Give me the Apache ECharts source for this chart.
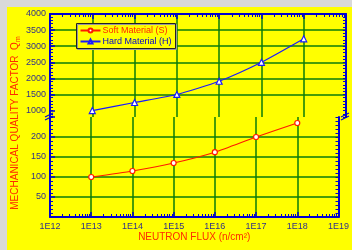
<!DOCTYPE html>
<html>
<head>
<meta charset="utf-8">
<script src="https://cdn.jsdelivr.net/npm/echarts@6/dist/echarts.min.js"></script>
<style>
  html, body { margin: 0; padding: 0; background: #d9d9d9; overflow: hidden; }
  #paper { position: absolute; left: 7px; top: 7px; width: 345px; height: 243px; background: #ffff00; }
  #chart { position: absolute; left: 0; top: 0; width: 352px; height: 250px; }
</style>
</head>
<body>
<div id="paper"></div>
<div id="chart"></div>
<script>
// neutron flux as power of ten (1E13 ... 1E18)
var fluxExp = [13, 14, 15, 16, 17, 18];
var softQm = [100, 115, 135, 162, 200, 235];
var hardQm = [1000, 1250, 1500, 1910, 2500, 3230];

var hardTicks = [1000, 1500, 2000, 2500, 3000, 3500, 4000];
var softTicks = [50, 100, 150, 200];

var softName = 'Soft Material (S)';
var hardName = 'Hard Material (H)';

var BLUE = '#0000d0';
var GREEN = '#0a7c0a';
var RED = '#ff2a00';
var LABEL = '#30308a';
var FONT = '"Liberation Sans", Arial, sans-serif';

// log minor ticks 2..9 in every decade
var minorX = [];
for (var n = 12; n < 19; n++) {
  for (var k = 2; k <= 9; k++) minorX.push(n + Math.log10(k));
}

var pts = function (ys) {
  return fluxExp.map(function (x, i) { return [x, ys[i]]; });
};

var chart = echarts.init(document.getElementById('chart'));

var axLine = { show: true, lineStyle: { color: BLUE, width: 2 } };
var split = { show: true, showMinLine: false, showMaxLine: false, lineStyle: { color: GREEN, width: 1.5 } };

function minorAxis(grid, pos, range, extra) {
  var a = {
    gridIndex: grid, type: 'value', position: pos, min: range[0], max: range[1],
    axisLine: { show: false },
    axisTick: { show: true, inside: true, length: 3, lineStyle: { color: BLUE, width: 1 } },
    axisLabel: { show: false },
    splitLine: { show: false }
  };
  return Object.assign(a, extra);
}

// break mark "//" over an axis line
function breakMark(x, y) {
  return {
    type: 'group', x: x, y: y, z: 100,
    children: [
      { type: 'polygon', shape: { points: [[-5, 0], [3, -4], [3, -1], [-5, 3]] }, style: { fill: '#ffff00' } },
      { type: 'line', shape: { x1: -5, y1: 0, x2: 3, y2: -4 }, style: { stroke: BLUE, lineWidth: 1.2 } },
      { type: 'line', shape: { x1: -5, y1: 3, x2: 3, y2: -1 }, style: { stroke: BLUE, lineWidth: 1.2 } }
    ]
  };
}

var plain = function (v) { return String(v); };

chart.setOption({
  animation: false,
  backgroundColor: 'transparent',
  textStyle: { fontFamily: FONT },
  grid: [
    { left: 50, top: 14, width: 296, height: 103 },
    { left: 50, top: 117, width: 296, height: 100 }
  ],
  legend: {
    left: 76.5, top: 23.5, orient: 'vertical',
    padding: [2, 4, 2, 3], itemGap: 1,
    itemWidth: 20, itemHeight: 5,
    backgroundColor: '#ffff00', borderColor: '#222', borderWidth: 1,
    shadowColor: '#999', shadowOffsetX: 1, shadowOffsetY: 1,
    textStyle: { fontSize: 9, lineHeight: 10, fontFamily: FONT, padding: [0, 0, 0, -3] },
    data: [
      { name: softName, textStyle: { color: RED } },
      { name: hardName, textStyle: { color: BLUE } }
    ]
  },
  xAxis: [
    {
      gridIndex: 0, type: 'value', position: 'top', min: 12, max: 19, interval: 1,
      axisLine: axLine,
      axisTick: { show: true, inside: true, length: 5, lineStyle: { color: BLUE, width: 1.5 } },
      axisLabel: { show: false },
      splitLine: split
    },
    minorAxis(0, 'top', [12, 19], {
      axisTick: { show: true, inside: true, length: 3, customValues: minorX, lineStyle: { color: BLUE } }
    }),
    {
      gridIndex: 1, type: 'value', position: 'bottom', min: 12, max: 19, interval: 1,
      axisLine: axLine,
      axisTick: { show: true, inside: true, length: 5, lineStyle: { color: BLUE, width: 1.5 } },
      axisLabel: { color: LABEL, fontSize: 9, margin: 5, formatter: function (v) { return '1E' + v; } },
      splitLine: split,
      name: 'NEUTRON FLUX (n/cm²)', nameLocation: 'middle', nameGap: 15,
      nameTextStyle: { color: RED, fontSize: 10, fontFamily: FONT }
    },
    minorAxis(1, 'bottom', [12, 19], {
      axisTick: { show: true, inside: true, length: 3, customValues: minorX, lineStyle: { color: BLUE } }
    })
  ],
  yAxis: [
    {
      gridIndex: 0, type: 'value', position: 'left', min: 800, max: 4000,
      axisLine: axLine,
      axisTick: { show: true, inside: true, length: 5, customValues: hardTicks, lineStyle: { color: BLUE, width: 1.5 } },
      axisLabel: { customValues: hardTicks, color: LABEL, fontSize: 9, margin: 4, formatter: plain },
      splitLine: split
    },
    minorAxis(0, 'left', [800, 4000], { interval: 100 }),
    {
      gridIndex: 0, type: 'value', position: 'right', min: 800, max: 4000, interval: 100,
      axisLine: axLine,
      axisTick: { show: true, inside: true, length: 3, lineStyle: { color: BLUE } },
      axisLabel: { show: false },
      splitLine: { show: false }
    },
    {
      gridIndex: 1, type: 'value', position: 'left', min: 0, max: 250, interval: 50,
      axisLine: axLine,
      axisTick: { show: true, inside: true, length: 5, lineStyle: { color: BLUE, width: 1.5 } },
      minorTick: { show: true, splitNumber: 5, length: 3, lineStyle: { color: BLUE } },
      axisLabel: {
        color: LABEL, fontSize: 9, margin: 4,
        formatter: function (v) { return softTicks.indexOf(v) >= 0 ? String(v) : ''; }
      },
      splitLine: split
    },
    {
      gridIndex: 1, type: 'value', position: 'right', min: 0, max: 250, interval: 10,
      axisLine: axLine,
      axisTick: { show: true, inside: true, length: 3, lineStyle: { color: BLUE } },
      axisLabel: { show: false },
      splitLine: { show: false }
    }
  ],
  series: [
    {
      name: softName, type: 'line', xAxisIndex: 2, yAxisIndex: 3,
      data: pts(softQm), smooth: 0.2,
      symbol: 'circle', symbolSize: 5,
      lineStyle: { color: '#ff1a00', width: 1.2 },
      itemStyle: { color: '#ffffff', borderColor: '#ff1a00', borderWidth: 1.2 }
    },
    {
      name: hardName, type: 'line', xAxisIndex: 0, yAxisIndex: 0,
      data: pts(hardQm), smooth: 0.2,
      symbol: 'triangle', symbolSize: 6,
      lineStyle: { color: '#1a1aff', width: 1.2 },
      itemStyle: { color: '#ffffff', borderColor: '#1a1aff', borderWidth: 1.2 }
    }
  ],
  graphic: [
    breakMark(50, 117),
    breakMark(346, 117),
    {
      type: 'text', x: 15, y: 123, rotation: Math.PI / 2, z: 100,
      style: {
        text: '{t|MECHANICAL QUALITY FACTOR  Q}{s|m}',
        align: 'center', verticalAlign: 'middle',
        rich: {
          t: { fontSize: 10, fontFamily: FONT, fill: RED, lineHeight: 14 },
          s: { fontSize: 7, fontFamily: FONT, fill: RED, lineHeight: 14, verticalAlign: 'bottom', padding: [6, 0, 0, 0] }
        }
      }
    }
  ]
});
</script>
</body>
</html>
